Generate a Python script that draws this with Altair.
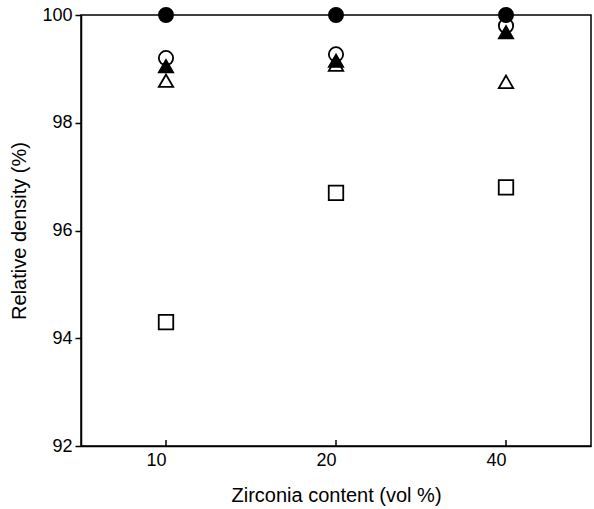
import altair as alt
import pandas as pd

# ---- data ----
contents = ["10", "20", "40"]
filled_circle = [100.0, 100.0, 100.0]
open_circle = [99.2, 99.27, 99.8]
filled_triangle = [99.05, 99.15, 99.68]
open_triangle = [98.78, 99.08, 98.76]
open_square = [94.3, 96.7, 96.8]
y_ticks = [92, 94, 96, 98, 100]

# draw order: back to front
series_names = ["open_square", "open_triangle", "open_circle", "filled_triangle", "filled_circle"]
series_values = [open_square, open_triangle, open_circle, filled_triangle, filled_circle]
shapes = ["square", "triangle-up", "circle", "triangle-up", "circle"]
fills = ["white", "white", "white", "black", "black"]
sizes = [210, 200, 160, 200, 225]

rows = []
for name, vals in zip(series_names, series_values):
    for c, v in zip(contents, vals):
        rows.append({"series": name, "content": c, "density": v})
df = pd.DataFrame(rows)

ticks_df = pd.DataFrame({"content": contents, "y0": [92] * 3, "y1": [92.11] * 3})

FONT = "Liberation Sans"

x_enc = alt.X(
    "content:O",
    sort=contents,
    scale=alt.Scale(type="point", padding=0.5, domain=contents),
    axis=alt.Axis(
        title="Zirconia content (vol %)",
        labelAngle=0,
        ticks=False,
        labelPadding=14,
        titlePadding=16,
        domainColor="black",
        domainWidth=1.5,
    ),
)

points = alt.Chart(df).mark_point(filled=True, stroke="black", strokeWidth=1.8, opacity=1).encode(
    x=x_enc,
    y=alt.Y(
        "density:Q",
        scale=alt.Scale(domain=[92, 100], nice=False, zero=False),
        axis=alt.Axis(
            title="Relative density (%)",
            values=y_ticks,
            tickSize=6,
            tickColor="black",
            tickWidth=1.5,
            labelPadding=3,
            titlePadding=12,
            domainColor="black",
            domainWidth=1.5,
            grid=False,
        ),
    ),
    shape=alt.Shape("series:N", scale=alt.Scale(domain=series_names, range=shapes), legend=None),
    fill=alt.Fill("series:N", scale=alt.Scale(domain=series_names, range=fills), legend=None),
    size=alt.Size("series:N", scale=alt.Scale(domain=series_names, range=sizes), legend=None),
    order=alt.Order("order:Q"),
).transform_calculate(
    order="indexof(" + str(series_names) + ", datum.series)"
)

inner_ticks = alt.Chart(ticks_df).mark_rule(color="black", strokeWidth=1.5).encode(
    x=alt.X("content:O", sort=contents, scale=alt.Scale(type="point", padding=0.5, domain=contents)),
    y=alt.Y("y0:Q"),
    y2="y1:Q",
)

chart = alt.layer(inner_ticks, points).properties(
    width=510,
    height=431,
    autosize=alt.AutoSizeParams(type="none"),
    padding={"left": 81, "top": 15, "right": 3, "bottom": 63},
    background="white",
).configure_view(
    stroke="black", strokeWidth=1.5
).configure_axis(
    labelFont=FONT,
    titleFont=FONT,
    labelFontSize=18,
    titleFontSize=20,
    labelColor="black",
    titleColor="black",
    titleFontWeight="normal",
)

chart.save("out.html", embed_options={"renderer": "svg", "actions": False})
